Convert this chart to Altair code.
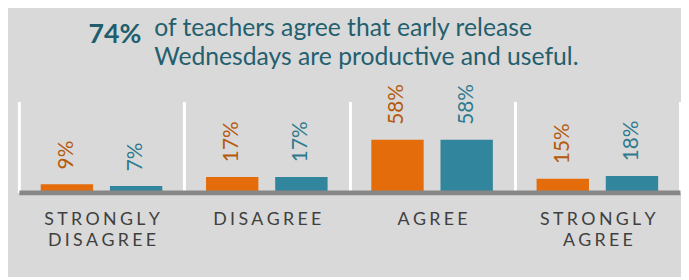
import altair as alt
import pandas as pd

categories = ["STRONGLY DISAGREE", "DISAGREE", "AGREE", "STRONGLY AGREE"]
series = ["Series A", "Series B"]
values_a = [9, 17, 58, 15]
values_b = [7, 17, 58, 18]
bar_colors = ["#e46c0a", "#31859c"]
label_colors = ["#b55a0c", "#2e7a8e"]
headline = "74%"
sentence = ["of teachers agree that early release", "Wednesdays are productive and useful."]


def spaced(s):
    return "|".join("\u2009\u200a".join(w) for w in s.split(" "))


rows = []
for cat, a, b in zip(categories, values_a, values_b):
    rows.append({"cat": spaced(cat), "series": series[0], "value": a, "label": f"{a}%"})
    rows.append({"cat": spaced(cat), "series": series[1], "value": b, "label": f"{b}%"})
df = pd.DataFrame(rows)
cat_order = [spaced(c) for c in categories]

base = alt.Chart(df).encode(
    x=alt.X(
        "cat:N",
        sort=cat_order,
        scale=alt.Scale(paddingInner=0, paddingOuter=0),
        axis=alt.Axis(
            title=None,
            labelExpr="split(datum.label, '|')",
            labelAngle=0,
            labelFont="Lato",
            labelFontSize=18,
            labelColor="#404040",
            labelLineHeight=22,
            labelPadding=18,
            ticks=False,
            domainColor="#878787",
            domainWidth=5,
            grid=True,
            gridColor="white",
            gridWidth=3,
            tickBand="extent",
            zindex=1,
        ),
    ),
    xOffset=alt.XOffset("series:N", sort=series,
                        scale=alt.Scale(paddingInner=0.243, paddingOuter=0.316)),
)

bars = base.mark_bar().encode(
    y=alt.Y(
        "value:Q",
        scale=alt.Scale(domain=[0, 100]),
        axis=alt.Axis(
            title=headline,
            domain=False,
            ticks=False,
            labels=False,
            grid=False,
            titleFont="Lato",
            titleFontWeight="bold",
            titleFontSize=27,
            titleColor="#215d6c",
            titleAngle=0,
            titleAlign="left",
            titleBaseline="alphabetic",
            titleX=70,
            titleY=-60,
        ),
    ),
    color=alt.Color("series:N", scale=alt.Scale(domain=series, range=bar_colors), legend=None),
)

labels = base.mark_text(angle=270, align="left", baseline="middle", dx=15,
                        font="Lato", fontSize=21).encode(
    y="value:Q",
    text="label:N",
    color=alt.Color("series:N", scale=alt.Scale(domain=series, range=label_colors), legend=None),
)

chart = (
    alt.layer(bars, labels)
    .resolve_scale(color="independent")
    .properties(
        width=669,
        height=92,
        padding={"left": 11, "top": 93, "right": 1, "bottom": 84},
        autosize="none",
        background="#d9d9d9",
        title=alt.Title(
            text=sentence,
            anchor="start",
            frame="group",
            font="Lato",
            fontSize=25,
            fontWeight="normal",
            color="#245f6e",
            lineHeight=29,
            dx=137,
            dy=50,
            offset=0,
        ),
    )
    .configure_view(stroke=None)
)

chart.save("out.html", embed_options={"renderer": "svg", "actions": False})
